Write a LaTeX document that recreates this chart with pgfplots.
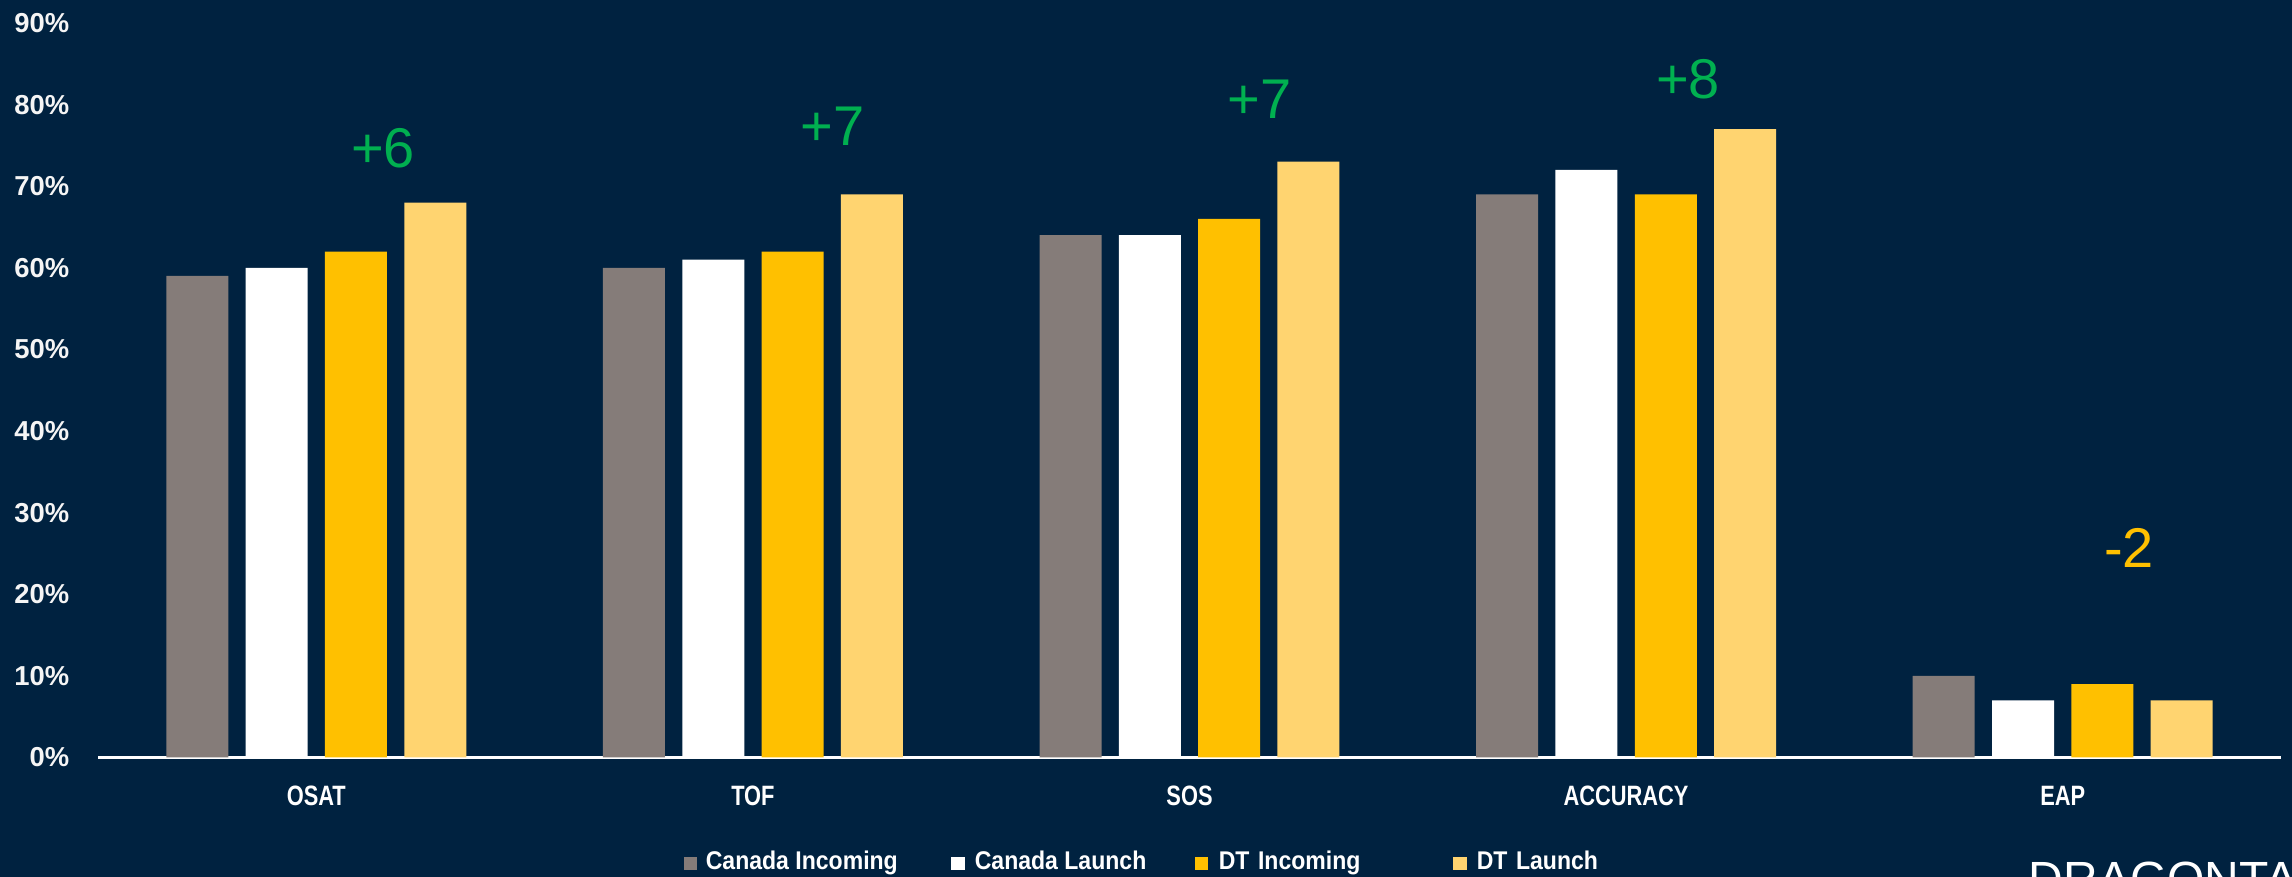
\documentclass[border=0pt]{standalone}
\usepackage{pgfplots}
\pgfplotsset{compat=1.18}
\usepackage{fontspec}
\setmainfont{Liberation Sans}
\newfontfamily\condfont[FakeStretch=0.78]{Liberation Sans}
\newfontfamily\legfont[FakeStretch=0.9]{Liberation Sans}

\definecolor{bg}{RGB}{0,34,64}
\definecolor{cgray}{RGB}{133,124,121}
\definecolor{corange}{RGB}{255,192,0}
\definecolor{clight}{RGB}{255,212,112}
\definecolor{cgreen}{RGB}{0,176,80}

\begin{document}
\begin{tikzpicture}[x=0.25pt,y=0.25pt]
\path[use as bounding box] (0,0) rectangle (2292,877);
\fill[bg] (0,0) rectangle (2292,877);
\clip (0,0) rectangle (2292,877);

\begin{axis}[
  at={(24.5pt,29.875pt)}, anchor=south west,
  scale only axis,
  width=545.75pt, height=183.625pt,
  xmin=-0.5, xmax=4.5,
  ymin=0, ymax=90,
  axis x line*=bottom,
  axis y line*=left,
  x axis line style={white, line width=0.75pt, -},
  y axis line style={draw=none},
  major tick length=0pt,
  xtick={0,1,2,3,4},
  xticklabels={OSAT,TOF,SOS,ACCURACY,EAP},
  ytick={0,10,...,90},
  yticklabels={0\%,10\%,20\%,30\%,40\%,50\%,60\%,70\%,80\%,90\%},
  x tick label style={font=\condfont\bfseries\fontsize{7}{8}\selectfont, text=white,
    anchor=north, inner sep=0pt, yshift=-7pt},
  y tick label style={font=\bfseries\fontsize{6.85}{8}\selectfont, text=white!92!gray,
    anchor=east, inner sep=0pt, xshift=-7pt},
  bar width=0.142,
  clip=false,
]
\addplot[ybar, bar shift=-0.2725, fill=cgray, draw=none]
  coordinates {(0,59)(1,60)(2,64)(3,69)(4,10)};
\addplot[ybar, bar shift=-0.0908, fill=white, draw=none]
  coordinates {(0,60)(1,61)(2,64)(3,72)(4,7)};
\addplot[ybar, bar shift=0.0908, fill=corange, draw=none]
  coordinates {(0,62)(1,62)(2,66)(3,69)(4,9)};
\addplot[ybar, bar shift=0.2725, fill=clight, draw=none]
  coordinates {(0,68)(1,69)(2,73)(3,77)(4,7)};

\node[text=cgreen, font=\fontsize{14}{16}\selectfont] at (axis cs:0.153,74.6) {+6};
\node[text=cgreen, font=\fontsize{14}{16}\selectfont] at (axis cs:1.183,77.3) {+7};
\node[text=cgreen, font=\fontsize{14}{16}\selectfont] at (axis cs:2.161,80.7) {+7};
\node[text=cgreen, font=\fontsize{14}{16}\selectfont] at (axis cs:3.142,83.1) {+8};
\node[text=corange, font=\fontsize{14}{16}\selectfont] at (axis cs:4.152,25.7) {-2};
\end{axis}

% legend
\fill[cgray] (684,7) rectangle (697,20);
\node[anchor=base west, inner sep=0pt, text=white, font=\legfont\bfseries\fontsize{6.4}{8}\selectfont] at (705,7) {Canada Incoming};
\fill[white] (951,7) rectangle (965,20);
\node[anchor=base west, inner sep=0pt, text=white, font=\legfont\bfseries\fontsize{6.4}{8}\selectfont] at (974,7) {Canada Launch};
\fill[corange] (1195,7) rectangle (1208,20);
\node[anchor=base west, inner sep=0pt, text=white, font=\legfont\bfseries\fontsize{6.4}{8}\selectfont] at (1218,7) {DT\,\,Incoming};
\fill[clight] (1453,7) rectangle (1467,20);
\node[anchor=base west, inner sep=0pt, text=white, font=\legfont\bfseries\fontsize{6.4}{8}\selectfont] at (1476,7) {DT\,\,Launch};

% watermark, cut off at the edge
\node[anchor=base west, inner sep=0pt, text=white, font=\fontsize{12}{14}\selectfont] at (2028,-19) {DRAGONTAIL};
\end{tikzpicture}
\end{document}
